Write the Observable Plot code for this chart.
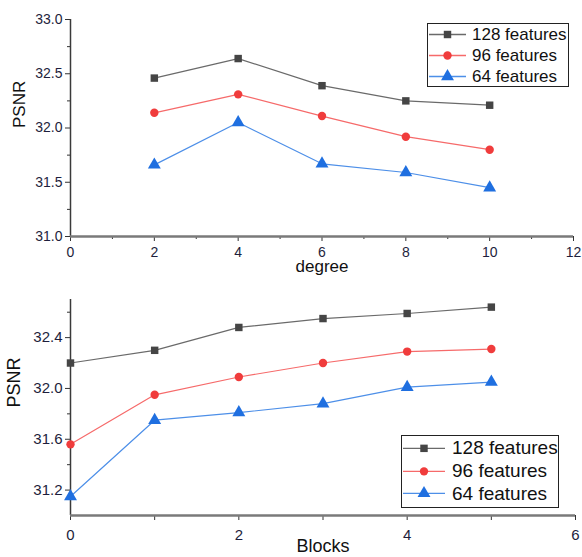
<!DOCTYPE html>
<html><head><meta charset="utf-8">
<script src="https://cdn.jsdelivr.net/npm/d3@7"></script>
<script src="https://cdn.jsdelivr.net/npm/@observablehq/plot@0.6"></script>
<style>
body{margin:0;background:#fff;font-family:"Liberation Sans",Arial,sans-serif;}
.wrap{position:relative;width:582px;}
.wrap svg{display:block;}
.legend{position:absolute;border:1.3px solid #222;background:#fff;box-sizing:border-box;color:#111;}
.row{display:flex;align-items:center;white-space:nowrap;}
.row svg{flex:none;}
</style></head><body>
<div id="topChart" class="wrap"></div>
<div id="bottomChart" class="wrap"></div>
<script>
const seriesNames = ["128 features","96 features","64 features"];
const markerColors = ["#454545","#f03c3c","#1f6fe0"];
const lineColors = ["#6a6a6a","#f66a6a","#4d8fe8"];
const symbols = ["square","circle","triangle"];

const degree = [2,4,6,8,10];
const deg128 = [32.46,32.64,32.39,32.25,32.21];
const deg96  = [32.14,32.31,32.11,31.92,31.80];
const deg64  = [31.66,32.05,31.67,31.59,31.45];
const degTicks = [0,2,4,6,8,10,12];
const degMinor = [1,3,5,7,9,11];
const degYTicks = [31.0,31.5,32.0,32.5,33.0];
const degYMinor = [31.25,31.75,32.25,32.75];

const blocks = [0,1,2,3,4,5];
const blk128 = [32.20,32.30,32.48,32.55,32.59,32.64];
const blk96  = [31.56,31.95,32.09,32.20,32.29,32.31];
const blk64  = [31.15,31.75,31.81,31.88,32.01,32.05];
const blkTicks = [0,1,2,3,4,5,6];
const blkLabels = [0,2,4,6];
const blkYTicks = [31.2,31.6,32.0,32.4];
const blkYMinor = [31.4,31.8,32.2,32.6];

function toRows(xs, ys){
  const rows=[];
  ys.forEach((vals,i)=>vals.forEach((v,j)=>rows.push({x:xs[j],y:v,s:seriesNames[i]})));
  return rows;
}

function chart(o){
  const rows = toRows(o.xs, o.ys);
  const marks = [
    Plot.axisY({ticks:o.yTicks, tickSize:5, tickPadding:3, tickFormat:d=>d.toFixed(1), fontSize:o.tickFont, fill:"#1e1e3c", stroke:"#333", label:null}),
    Plot.axisY({ticks:o.yMinor, tickSize:3, tickFormat:()=>"", stroke:"#333", label:null}),
    Plot.axisX({ticks:o.xTicks, tickSize:5, tickPadding:o.xPad, tickFormat:d=>o.xLabels.includes(d)?String(d):"", fontSize:o.tickFont, fill:"#1e1e3c", stroke:"#333", label:null}),
    o.xMinor ? Plot.axisX({ticks:o.xMinor, tickSize:3, tickFormat:()=>"", stroke:"#333", label:null}) : null,
    Plot.ruleX([o.xDomain[0]], {stroke:"#3a3a3a", strokeWidth:1.5}),
    Plot.ruleY([o.yDomain[0]], {stroke:"#7a7a7a", strokeWidth:2.5}),
  ];
  seriesNames.forEach((s,i)=>{
    const d = rows.filter(r=>r.s===s);
    marks.push(Plot.line(d,{x:"x",y:"y",stroke:lineColors[i],strokeWidth:1.2}));
    marks.push(Plot.dot(d,{x:"x",y:"y",symbol:()=>symbols[i],r:i===2?4.8:4.2,fill:markerColors[i],stroke:"none"}));
  });
  marks.push(Plot.text([o.yLabel],{frameAnchor:"left",dx:-o.yLabelOffset,rotate:-90,fontSize:o.labelFont,fill:"#111"}));
  marks.push(Plot.text([o.xLabel],{frameAnchor:"bottom",dy:o.xLabelOffset,fontSize:o.labelFont,fill:"#111"}));
  return Plot.plot({
    width:582, height:o.height,
    marginLeft:70, marginRight:o.marginRight, marginTop:o.marginTop, marginBottom:o.marginBottom,
    style:{fontFamily:"Liberation Sans, Arial, sans-serif", background:"transparent", overflow:"visible"},
    x:{domain:o.xDomain},
    y:{domain:o.yDomain},
    marks: marks.filter(Boolean)
  });
}

function legend(o){
  const div=document.createElement("div");
  div.className="legend";
  Object.assign(div.style,{left:o.left+"px",top:o.top+"px",width:o.width+"px",height:o.height+"px",fontSize:o.font+"px",paddingTop:o.pad+"px"});
  seriesNames.forEach((s,i)=>{
    const row=document.createElement("div");
    row.className="row";
    row.style.height=o.rowH+"px";
    const w=o.lineW;
    const ns="http://www.w3.org/2000/svg";
    const svg=document.createElementNS(ns,"svg");
    svg.setAttribute("width",w+4);svg.setAttribute("height",o.rowH);
    const cy=o.rowH/2;
    const ln=document.createElementNS(ns,"line");
    ln.setAttribute("x1",1);ln.setAttribute("x2",w+1);ln.setAttribute("y1",cy);ln.setAttribute("y2",cy);
    ln.setAttribute("stroke",lineColors[i]);ln.setAttribute("stroke-width",1.3);
    svg.appendChild(ln);
    const p=document.createElementNS(ns,"path");
    const sym=[d3.symbolSquare,d3.symbolCircle,d3.symbolTriangle][i];
    const r=i===2?4.8:4.2;
    p.setAttribute("d",d3.symbol(sym,Math.PI*r*r)());
    p.setAttribute("transform",`translate(${1+w/2},${cy})`);
    p.setAttribute("fill",markerColors[i]);
    svg.appendChild(p);
    row.appendChild(svg);
    const t=document.createElement("span");
    t.textContent=s;
    t.style.marginLeft=o.gap+"px";
    row.appendChild(t);
    div.appendChild(row);
  });
  return div;
}

const topEl = document.getElementById("topChart");
topEl.appendChild(chart({
  xs:degree, ys:[deg128,deg96,deg64], height:280, marginTop:19, marginBottom:44, marginRight:9,
  xDomain:[0,12], yDomain:[31,33], xTicks:degTicks, xMinor:degMinor, xLabels:degTicks, xPad:6,
  yTicks:degYTicks, yMinor:degYMinor, tickFont:14, labelFont:17,
  yLabel:"PSNR", yLabelOffset:51, xLabel:"degree", xLabelOffset:35
}));
topEl.appendChild(legend({left:427,top:23,width:142,height:64,font:17,rowH:21,lineW:37,gap:3,pad:0}));

const bottomEl = document.getElementById("bottomChart");
bottomEl.appendChild(chart({
  xs:blocks, ys:[blk128,blk96,blk64], height:277, marginTop:19, marginBottom:42, marginRight:7,
  xDomain:[0,6], yDomain:[31.0,32.7], xTicks:blkTicks, xMinor:null, xLabels:blkLabels, xPad:9,
  yTicks:blkYTicks, yMinor:blkYMinor, tickFont:15, labelFont:18,
  yLabel:"PSNR", yLabelOffset:56, xLabel:"Blocks", xLabelOffset:36
}));
bottomEl.appendChild(legend({left:401,top:155,width:158,height:73,font:19,rowH:22.7,lineW:42,gap:4,pad:1}));
</script>
</body></html>
